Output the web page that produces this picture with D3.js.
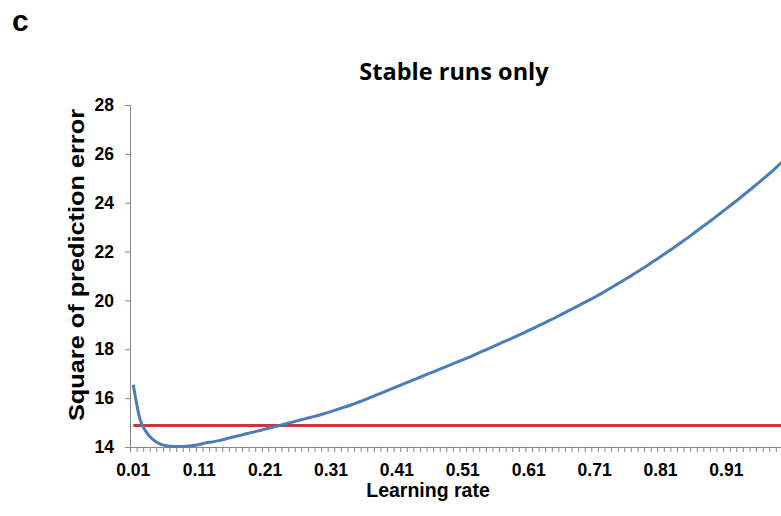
<!DOCTYPE html>
<html>
<head>
<meta charset="utf-8">
<script src="https://cdn.jsdelivr.net/npm/d3@7"></script>
<style>
  html, body { margin: 0; padding: 0; background: #fff; }
  svg { display: block; overflow: hidden; }
</style>
</head>
<body>
<svg id="chart" width="781" height="516"></svg>
<script>
// Learning rates 0.01 .. 1.00 (category axis)
const learningRates = d3.range(1, 101).map(i => (i / 100).toFixed(2));

// Mean squared prediction error over stable runs, one value per learning rate
const errorValues = [
  16.55, 15.15, 14.60, 14.30, 14.13, 14.05, 14.02, 14.02, 14.03, 14.06,
  14.10, 14.17, 14.21, 14.26, 14.33, 14.40, 14.46, 14.53, 14.60, 14.66,
  14.73, 14.80, 14.87, 14.94, 15.01, 15.08, 15.15, 15.22, 15.29, 15.37,
  15.45, 15.54, 15.63, 15.72, 15.82, 15.92, 16.03, 16.14, 16.25, 16.36,
  16.47, 16.58, 16.69, 16.80, 16.91, 17.02, 17.13, 17.24, 17.35, 17.46,
  17.57, 17.68, 17.80, 17.92, 18.04, 18.16, 18.28, 18.40, 18.52, 18.64,
  18.77, 18.90, 19.03, 19.16, 19.29, 19.43, 19.57, 19.71, 19.85, 19.99,
  20.13, 20.28, 20.44, 20.60, 20.76, 20.92, 21.09, 21.26, 21.43, 21.61,
  21.79, 21.97, 22.16, 22.35, 22.54, 22.74, 22.94, 23.14, 23.34, 23.55,
  23.76, 23.97, 24.18, 24.40, 24.62, 24.84, 25.07, 25.30, 25.56, 25.80
];

// Reference level (horizontal line)
const baselineError = 14.88;

const yTicks = [14, 16, 18, 20, 22, 24, 26, 28];
const xLabelRates = learningRates.filter((d, i) => i % 10 === 0);

const svg = d3.select("#chart");
const plotLeft = 130, plotRight = 789, plotTop = 105, plotBottom = 447;

const x = d3.scaleBand().domain(learningRates).range([plotLeft, plotRight]).padding(0);
const xEdge = d3.scaleLinear().domain([0, learningRates.length]).range([plotLeft, plotRight]);
const y = d3.scaleLinear().domain([14, 28]).range([plotBottom, plotTop]);
const cx = d => x(d) + x.bandwidth() / 2;

const axisColor = "#868686";
const tickFont = "'Liberation Sans', Arial, sans-serif";

// Y axis
const yAxis = svg.append("g")
  .attr("transform", `translate(${plotLeft},0)`)
  .call(d3.axisLeft(y).tickValues(yTicks).tickSize(5).tickPadding(11).tickSizeOuter(0));
yAxis.select(".domain").attr("stroke", axisColor);
yAxis.selectAll(".tick line").attr("stroke", axisColor);
yAxis.selectAll("text")
  .attr("font-family", tickFont).attr("font-weight", "bold")
  .attr("font-size", 17.5).attr("fill", "#000");

// X axis: a tick mark at every category boundary
const xTickAxis = svg.append("g")
  .attr("transform", `translate(0,${plotBottom})`)
  .call(d3.axisBottom(xEdge).tickValues(d3.range(learningRates.length + 1))
    .tickSize(5).tickSizeOuter(0).tickFormat(""));
xTickAxis.select(".domain").attr("stroke", axisColor);
xTickAxis.selectAll(".tick line").attr("stroke", axisColor);

// X axis labels every tenth category
const xLabelAxis = svg.append("g")
  .attr("transform", `translate(0,${plotBottom})`)
  .call(d3.axisBottom(x).tickValues(xLabelRates).tickSize(0).tickPadding(17));
xLabelAxis.select(".domain").remove();
xLabelAxis.selectAll("text")
  .attr("font-family", tickFont).attr("font-weight", "bold")
  .attr("font-size", 17.5).attr("fill", "#000");

// Reference line
svg.append("path")
  .datum(learningRates)
  .attr("fill", "none")
  .attr("stroke", "#c8373a")
  .attr("stroke-width", 3)
  .attr("d", d3.line().x(d => cx(d)).y(() => y(baselineError)));

// Error curve
svg.append("path")
  .datum(learningRates.map((d, i) => [d, errorValues[i]]))
  .attr("fill", "none")
  .attr("stroke", "#4a7ebb")
  .attr("stroke-width", 3)
  .attr("stroke-linejoin", "round")
  .attr("d", d3.line().x(d => cx(d[0])).y(d => y(d[1])).curve(d3.curveMonotoneX));

// Titles
svg.append("text")
  .attr("x", 12).attr("y", 31)
  .attr("font-family", tickFont).attr("font-weight", "bold")
  .attr("font-size", 30).text("c");

svg.append("text")
  .attr("x", 454).attr("y", 80)
  .attr("text-anchor", "middle")
  .attr("font-family", "'Open Sans', Lato, sans-serif").attr("font-weight", "bold")
  .attr("font-size", 23.5).text("Stable runs only");

svg.append("text")
  .attr("x", 428).attr("y", 497)
  .attr("text-anchor", "middle")
  .attr("font-family", tickFont).attr("font-weight", "bold")
  .attr("font-size", 19.5).text("Learning rate");

svg.append("text")
  .attr("transform", "translate(84,265) rotate(-90)")
  .attr("text-anchor", "middle")
  .attr("font-family", tickFont).attr("font-weight", "bold")
  .attr("font-size", 22.5)
  .attr("textLength", 312).attr("lengthAdjust", "spacingAndGlyphs")
  .text("Square of prediction error");
</script>
</body>
</html>
